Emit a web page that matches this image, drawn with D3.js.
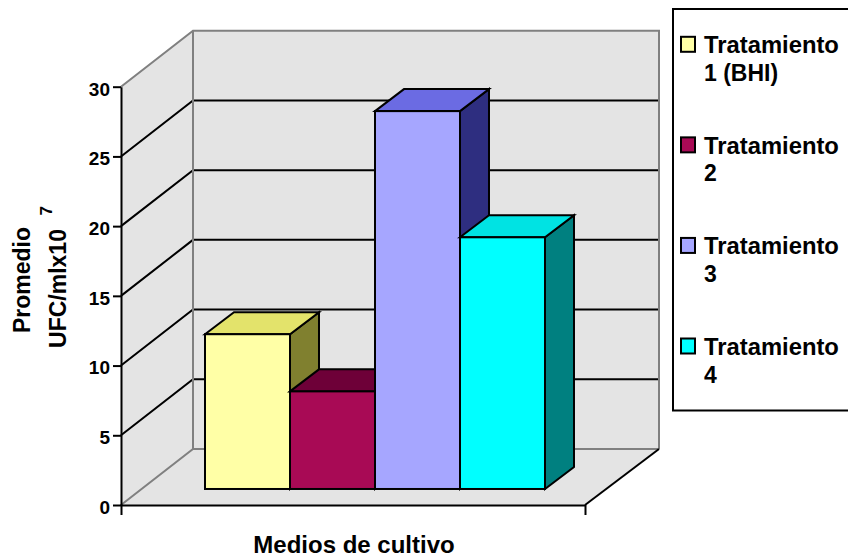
<!DOCTYPE html>
<html>
<head>
<meta charset="utf-8">
<script src="https://cdnjs.cloudflare.com/ajax/libs/d3/7.8.5/d3.min.js"></script>
<style>
  html, body { margin: 0; padding: 0; background: #fff; }
  svg { display: block; }
  text { font-family: "Liberation Sans", Arial, sans-serif; font-weight: bold; fill: #000; }
</style>
</head>
<body>
<svg id="chart" width="848" height="558"></svg>
<script>
// Colony counts per treatment, in units of 10^7 UFC/ml
const seriesNames = ["Tratamiento 1 (BHI)", "Tratamiento 2", "Tratamiento 3", "Tratamiento 4"];
const values = [11.1, 7.0, 27.1, 18.05];
const yTicks = [0, 5, 10, 15, 20, 25, 30];
const categories = ["Medios de cultivo"];
const legendFirstLines = ["Tratamiento", "Tratamiento", "Tratamiento", "Tratamiento"];
const legendSecondLines = ["1 (BHI)", "2", "3", "4"];
const frontColors = ["#ffffa6", "#a80a55", "#a6a6ff", "#00ffff"];
const topColors = ["#e3e36b", "#6e0038", "#6b6be3", "#00e3e3"];
const sideColors = ["#80802f", "#6e0038", "#2e2e80", "#008080"];

const svg = d3.select("#chart");

// Projection of the 3D box: value to height, depth to an oblique offset
const y = d3.scaleLinear().domain([0, 30]).range([505, 86.7]);
const xCat = d3.scaleBand().domain(categories).range([121, 585]);
const depthX = d3.scaleLinear().domain([0, 1]).range([0, 72]);
const depthY = d3.scaleLinear().domain([0, 1]).range([0, -56]);
const xBar = d3.scaleBand().domain(seriesNames).range([205, 545]);

const wallFill = "#e4e4e4";
const edgeGrey = "#808080";
const lineWidth = 2;
const left = 121, right = 585, backRight = 659, floorY = y(0), topY = y(30);
const dx = depthX(1), dy = depthY(1);
const poly = pts => pts.map(p => p.join(",")).join(" ");

// Walls and floor
svg.append("polygon").attr("fill", wallFill)
  .attr("points", poly([[left, floorY], [left, topY], [left + dx, topY + dy], [backRight, topY + dy],
                        [backRight, floorY + dy], [right, floorY]]));

// Gridlines across the side wall and the back wall
const grid = svg.append("g").attr("fill", "none").attr("stroke", "#000").attr("stroke-width", lineWidth);
grid.selectAll("polyline").data(yTicks.filter(t => t > 0 && t < 30)).join("polyline")
  .attr("points", t => poly([[left, y(t)], [left + dx, y(t) + dy], [backRight, y(t) + dy]]));

// Grey box edges
const edges = svg.append("g").attr("fill", "none").attr("stroke", edgeGrey).attr("stroke-width", lineWidth);
edges.append("polyline").attr("points", poly([[left, topY], [left + dx, topY + dy], [backRight, topY + dy], [backRight, floorY + dy]]));
edges.append("line").attr("x1", left + dx).attr("x2", left + dx).attr("y1", topY + dy).attr("y2", floorY + dy);
edges.append("polyline").attr("points", poly([[left, floorY], [left + dx, floorY + dy], [backRight, floorY + dy]]));

// Floor front-right edge
svg.append("line").attr("x1", right).attr("y1", floorY).attr("x2", backRight).attr("y2", floorY + dy)
  .attr("stroke", "#000").attr("stroke-width", lineWidth);

// Bars, drawn left to right so each one overlaps its neighbour's side face
const zFront = 0.286, zBack = 0.679;
const barBase = floorY + depthY(zFront);
const barDx = depthX(zBack - zFront) + 0.7, barDy = depthY(zBack - zFront);
const heightOf = v => floorY - y(v);

const bars = svg.append("g").attr("stroke", "#000").attr("stroke-width", lineWidth).attr("stroke-linejoin", "miter");
seriesNames.forEach((name, i) => {
  const x0 = xBar(name), x1 = x0 + xBar.bandwidth();
  const top = barBase - heightOf(values[i]);
  const g = bars.append("g");
  g.append("polygon").attr("fill", sideColors[i])
    .attr("points", poly([[x1, barBase], [x1, top], [x1 + barDx, top + barDy], [x1 + barDx, barBase + barDy]]));
  g.append("polygon").attr("fill", topColors[i])
    .attr("points", poly([[x0, top], [x0 + barDx, top + barDy], [x1 + barDx, top + barDy], [x1, top]]));
  g.append("rect").attr("fill", frontColors[i])
    .attr("x", x0).attr("y", top).attr("width", x1 - x0).attr("height", barBase - top);
});

// Value axis
const yAxis = svg.append("g").attr("transform", `translate(${left},0)`)
  .call(d3.axisLeft(y).tickValues(yTicks).tickSize(8).tickSizeOuter(0).tickPadding(3));
yAxis.selectAll("path, line").attr("stroke", "#000").attr("stroke-width", lineWidth);
yAxis.selectAll("text").attr("font-size", 19).attr("dy", "0.44em");

// Category axis: only the end ticks are drawn
const xAxis = svg.append("g").attr("transform", `translate(0,${floorY})`)
  .call(d3.axisBottom(xCat).tickSizeInner(0).tickSizeOuter(10).tickFormat(""));
xAxis.selectAll("path").attr("stroke", "#000").attr("stroke-width", lineWidth);
xAxis.selectAll(".tick").remove();

// Axis titles
svg.append("text").attr("x", 354).attr("y", 552.5).attr("text-anchor", "middle").attr("font-size", 24)
  .text(categories[0]);
const yTitle = svg.append("g").attr("transform", "translate(0,292) rotate(-90)");
yTitle.append("text").attr("x", 12).attr("y", 30).attr("text-anchor", "middle").attr("font-size", 23).text("Promedio");
yTitle.append("text").attr("x", 3.5).attr("y", 66).attr("text-anchor", "middle").attr("font-size", 23).text("UFC/mlx10");
yTitle.append("text").attr("x", 76.5).attr("y", 52).attr("font-size", 17).text("7");

// Legend panel, which runs off the right side of the page
svg.append("polyline").attr("fill", "#fff").attr("stroke", "#000").attr("stroke-width", 2)
  .attr("points", poly([[850, 9], [673, 9], [673, 410.5], [850, 410.5]]));
const legendY = d3.scalePoint().domain(seriesNames).range([44.3, 346]);
const legend = svg.append("g").selectAll("g").data(seriesNames).join("g")
  .attr("transform", d => `translate(0,${legendY(d)})`);
legend.append("rect").attr("x", 681).attr("y", -7.5).attr("width", 14).attr("height", 15)
  .attr("fill", (d, i) => frontColors[i]).attr("stroke", "#000").attr("stroke-width", lineWidth);
legend.append("text").attr("x", 704).attr("y", 9).attr("font-size", 23.8).text((d, i) => legendFirstLines[i]);
legend.append("text").attr("x", 704).attr("y", 36.5).attr("font-size", 23).text((d, i) => legendSecondLines[i]);
</script>
</body>
</html>
